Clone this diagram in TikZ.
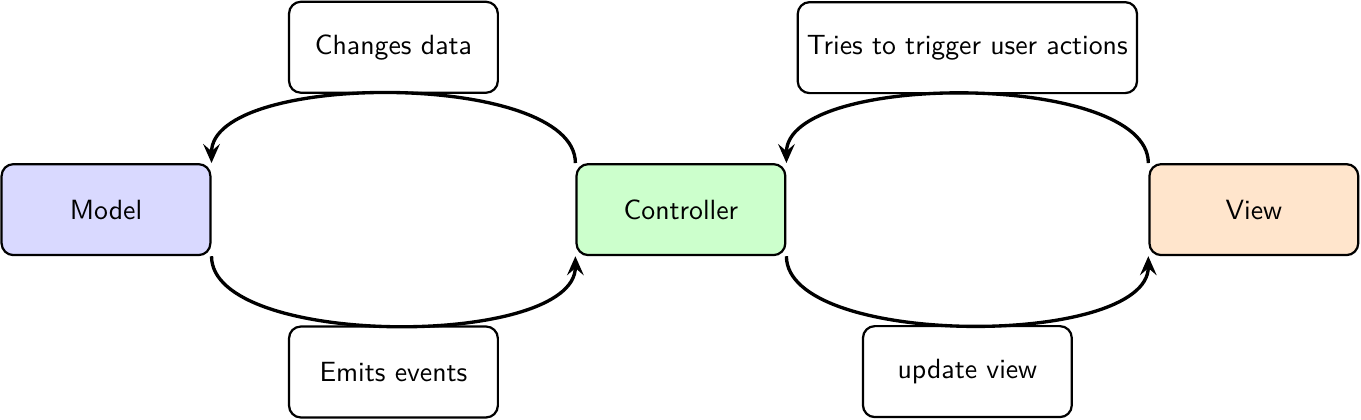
\documentclass[tikz,border=0pt]{standalone}
\usepackage{tikz}
\usepackage{xcolor}
\usetikzlibrary{positioning, arrows.meta}
\begin{document}
\begin{tikzpicture}
[scale=1.0,
box-a/.style={rectangle, rounded corners=1.5mm, draw, thick, font=\sffamily, minimum width=2.64cm, minimum height=1.15cm},
box-b/.style={box-a},
flow/.style={very thick, -{Stealth[length=2.4mm, width=2.1mm, inset=0.9mm]}, looseness=0.65},]
%\draw [dotted, step=1.0] (-2,-3) grid (16,3);
\useasboundingbox (-1.34,-2.65) rectangle (15.866,2.65);
\node (model)      [box-a, fill=blue!15]                      {Model};
\node (controller) [box-a, fill=green!20, right = 4.6cm of model]      {Controller};
\node (view)       [box-a, fill=orange!20, right = 4.575cm of controller] {View};
\draw [flow] (controller.north west) to [out=90, in=90] node (changes) [box-b, above=0pt] {Changes data} (model.north east);
\draw [flow] (model.south east) to [out=-90, in=-90] node (emits) [box-b, below=0pt] {Emits events} (controller.south west);
\draw [flow] (view.north west) to [out=90, in=90] node (tries) [box-b, above=0pt] {Tries to trigger user actions} (controller.north east);
\draw [flow] (controller.south east) to [out=-90, in=-90] node (update) [box-b, below=0pt] {update view} (view.south west);
\end{tikzpicture}
\end{document}
